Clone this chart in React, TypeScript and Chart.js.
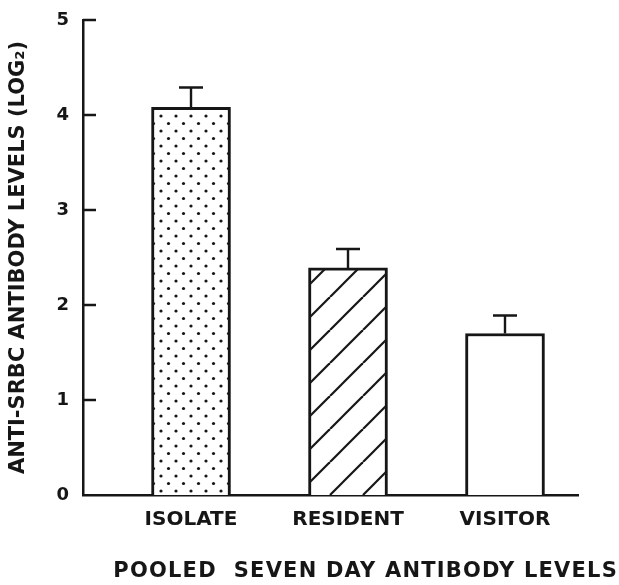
import React, { useEffect, useRef } from "react";
import { Chart, registerables } from "chart.js";

Chart.register(...registerables);

const categories = ["ISOLATE", "RESIDENT", "VISITOR"];
const positions = [1, 2, 3];
const meanValues = [4.08, 2.39, 1.7];
const errorUpper = [0.21, 0.2, 0.19];
const yTickValues = [0, 1, 2, 3, 4, 5];
const yTitle = "ANTI-SRBC ANTIBODY LEVELS (LOG\u2082)";
const bottomTitle = "POOLED  SEVEN DAY ANTIBODY LEVELS";

const INK = "#161616";
const FONT = "'DejaVu Sans', sans-serif";

function makeDotPattern(): CanvasPattern | string {
  const c = document.createElement("canvas");
  c.width = 15;
  c.height = 15;
  const ctx = c.getContext("2d");
  if (!ctx) return "#fff";
  ctx.fillStyle = "#fff";
  ctx.fillRect(0, 0, 15, 15);
  ctx.fillStyle = INK;
  for (const [x, y] of [
    [3.5, 3.5],
    [11, 11],
  ]) {
    ctx.beginPath();
    ctx.arc(x, y, 1.6, 0, Math.PI * 2);
    ctx.fill();
  }
  return ctx.createPattern(c, "repeat") || "#fff";
}

function makeHatchPattern(): CanvasPattern | string {
  const s = 33;
  const c = document.createElement("canvas");
  c.width = s;
  c.height = s;
  const ctx = c.getContext("2d");
  if (!ctx) return "#fff";
  ctx.fillStyle = "#fff";
  ctx.fillRect(0, 0, s, s);
  ctx.strokeStyle = INK;
  ctx.lineWidth = 2.2;
  for (const off of [-s, 0, s]) {
    ctx.beginPath();
    ctx.moveTo(off, s);
    ctx.lineTo(off + s, 0);
    ctx.stroke();
  }
  return ctx.createPattern(c, "repeat") || "#fff";
}

const extrasPlugin = {
  id: "extras",
  afterDatasetsDraw(chart: any) {
    const ctx = chart.ctx;
    const x = chart.scales.x;
    const y = chart.scales.y;
    ctx.save();
    ctx.strokeStyle = INK;
    ctx.lineWidth = 2.5;
    for (const v of yTickValues) {
      if (v === 0) continue;
      const py = y.getPixelForValue(v);
      ctx.beginPath();
      ctx.moveTo(chart.chartArea.left, py);
      ctx.lineTo(chart.chartArea.left + 13, py);
      ctx.stroke();
    }
    ctx.lineWidth = 2.4;
    positions.forEach((p, i) => {
      const px = x.getPixelForValue(p);
      const top = y.getPixelForValue(meanValues[i]);
      const cap = y.getPixelForValue(meanValues[i] + errorUpper[i]);
      ctx.beginPath();
      ctx.moveTo(px, top);
      ctx.lineTo(px, cap);
      ctx.moveTo(px - 12, cap);
      ctx.lineTo(px + 12, cap);
      ctx.stroke();
    });
    ctx.restore();
  },
  afterDraw(chart: any) {
    const ctx = chart.ctx;
    ctx.save();
    ctx.fillStyle = INK;
    ctx.font = `bold 21px ${FONT}`;
    (ctx as any).letterSpacing = "1.2px";
    ctx.textAlign = "right";
    ctx.textBaseline = "alphabetic";
    ctx.fillText(bottomTitle, 618, 577);
    ctx.restore();
  },
};

export default function App() {
  const ref = useRef<HTMLCanvasElement | null>(null);

  useEffect(() => {
    if (!ref.current) return;
    const dots = makeDotPattern();
    const hatch = makeHatchPattern();
    const chart = new Chart(ref.current, {
      type: "bar",
      data: {
        datasets: [
          {
            data: positions.map((p, i) => ({ x: p, y: meanValues[i] })),
            backgroundColor: [dots, hatch, "#ffffff"] as any,
            borderColor: INK,
            borderWidth: 3,
            borderSkipped: "bottom",
            barThickness: 79,
          },
        ],
      },
      options: {
        animation: false,
        responsive: true,
        maintainAspectRatio: false,
        layout: { padding: { top: 20, right: 41, bottom: 0, left: 0 } },
        plugins: {
          legend: { display: false },
          tooltip: { enabled: false },
          title: { display: false },
        },
        scales: {
          x: {
            type: "linear",
            min: 0.312,
            max: 3.465,
            offset: false,
            grid: { display: false, drawTicks: false },
            border: { display: true, color: INK, width: 2.5 },
            afterBuildTicks: (scale: any) => {
              scale.ticks = positions.map((v) => ({ value: v }));
            },
            afterFit: (scale: any) => {
              scale.height = 90;
              scale.paddingLeft = 0;
              scale.paddingRight = 0;
            },
            ticks: {
              color: INK,
              font: { family: FONT, size: 20, weight: "bold" },
              padding: 13,
              maxRotation: 0,
              autoSkip: false,
              callback: (v: any) => categories[positions.indexOf(Number(v))] ?? "",
            },
          },
          y: {
            min: 0,
            max: 5,
            grid: { display: false, drawTicks: false },
            border: { display: true, color: INK, width: 2.5 },
            afterBuildTicks: (scale: any) => {
              scale.ticks = yTickValues.map((v) => ({ value: v }));
            },
            afterFit: (scale: any) => {
              scale.width = 83;
              scale.paddingTop = 0;
              scale.paddingBottom = 0;
            },
            ticks: {
              color: INK,
              font: { family: FONT, size: 18, weight: "bold" },
              padding: 14,
            },
            title: {
              display: true,
              text: yTitle,
              color: INK,
              font: { family: FONT, size: 21, weight: "bold" },
              padding: { top: 6, bottom: 0 },
            },
          },
        },
      },
      plugins: [extrasPlugin],
    });
    return () => chart.destroy();
  }, []);

  return (
    <div style={{ position: "absolute", left: 0, top: 0, width: 619, height: 585, background: "#fff" }}>
      <canvas ref={ref} />
    </div>
  );
}
